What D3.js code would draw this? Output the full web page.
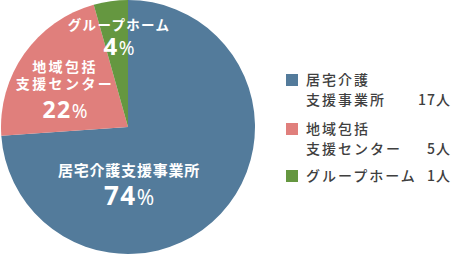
<!DOCTYPE html>
<html><head><meta charset="utf-8">
<script src="https://cdn.jsdelivr.net/npm/d3@7"></script>
<style>
body{margin:0;background:#fff;}
svg{display:block;font-family:"Noto Sans CJK JP","Noto Sans",sans-serif;}
</style></head><body>
<svg id="c" width="454" height="255"></svg>
<script>
const categories = ["居宅介護支援事業所", "地域包括支援センター", "グループホーム"];
const values = [17, 5, 1];
const percentLabels = ["74", "22", "4"];
const pieLabelLines = [["居宅介護支援事業所"], ["地域包括", "支援センター"], ["グループホーム"]];
const legendLines = [["居宅介護", "支援事業所"], ["地域包括", "支援センター"], ["グループホーム"]];
const legendCounts = ["17人", "5人", "1人"];
const colors = ["#537b9b", "#e07f7c", "#659740"];

const svg = d3.select("#c");
const cx = 128, cy = 127, r = 127;
const pie = d3.pie().sort(null).value(d => d)(values);
const arc = d3.arc().innerRadius(0).outerRadius(r);
const g = svg.append("g").attr("transform", `translate(${cx},${cy})`);
g.selectAll("path").data(pie).join("path")
  .attr("d", arc).attr("fill", (d, i) => colors[i]);

// label layout (positions relative to centre)
const layout = [
  {x: 1, ys: [49], py: 78, fs: 15, ls: 0.8, pfs: 26, pcs: 21},
  {x: -63, ys: [-55, -38], py: -9, fs: 14, ls: 2.4, pfs: 23, pcs: 19},
  {x: -9, ys: [-97], py: -72, fs: 13.5, ls: 1.3, pfs: 24, pcs: 19}
];
layout.forEach((L, i) => {
  pieLabelLines[i].forEach((t, j) => {
    g.append("text").attr("x", L.x).attr("y", L.ys[j])
      .attr("text-anchor", "middle").attr("fill", "#fff")
      .attr("font-weight", 700).attr("font-size", L.fs)
      .attr("letter-spacing", L.ls).text(t);
  });
  const pt = g.append("text").attr("x", L.x).attr("y", L.py)
    .attr("text-anchor", "middle").attr("fill", "#fff")
    .attr("font-weight", 700).attr("font-family", "'Noto Sans',sans-serif");
  pt.append("tspan").attr("font-size", L.pfs).attr("letter-spacing", 1.5).text(percentLabels[i]);
  pt.append("tspan").attr("font-size", L.pcs).attr("font-weight", 400).text("%");
});

// legend
const lg = svg.append("g");
const itemY = [74, 123, 170];
categories.forEach((c, i) => {
  const y0 = itemY[i];
  lg.append("rect").attr("x", 286).attr("y", y0).attr("width", 12).attr("height", 12).attr("fill", colors[i]);
  legendLines[i].forEach((t, j) => {
    lg.append("text").attr("x", 306).attr("y", y0 + 11 + j * 20)
      .attr("font-size", 14).attr("font-weight", 500).attr("letter-spacing", 2)
      .attr("fill", "#3f3f3f").text(t);
  });
  lg.append("text").attr("x", 451).attr("y", y0 + 11 + (legendLines[i].length - 1) * 20)
    .attr("text-anchor", "end").attr("font-size", 14).attr("font-weight", 500)
    .attr("letter-spacing", 1).attr("fill", "#3f3f3f").text(legendCounts[i]);
});
</script></body></html>
